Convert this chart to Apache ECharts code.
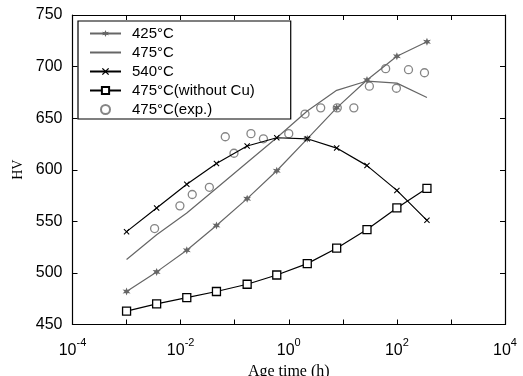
<!DOCTYPE html>
<html>
<head>
<meta charset="utf-8">
<script src="https://cdn.jsdelivr.net/npm/echarts@6/dist/echarts.min.js"></script>
<style>
  html, body { margin: 0; padding: 0; background: #fff; }
  #chart { width: 523px; height: 376px; }
</style>
</head>
<body>
<div id="chart"></div>
<script>
// Ageing time (h) of the modelled curves
const ageTime = [0.001, 0.0036, 0.013, 0.046, 0.17, 0.6, 2.2, 7.7, 28, 100, 360];
// Hardness (HV) for each ageing temperature
const hv425 = [482, 501, 522, 546, 572, 599, 630, 660, 687, 710, 724];
const hv475 = [513, 537, 558, 582, 607, 631, 657, 677, 686, 684, 670];
const hv540 = [540, 563, 586, 606, 623, 631, 630, 621, 604, 580, 551];
const hv475NoCu = [463, 470, 476, 482, 489, 498, 509, 524, 542, 563, 582];
// Measured hardness at 475°C
const expTime = [0.0033, 0.0097, 0.0164, 0.034, 0.067, 0.097, 0.2, 0.34, 1.0, 2.0, 3.9, 7.9, 16, 31, 62, 98, 164, 324];
const expHv = [543, 565, 576, 583, 632, 616, 635, 630, 635, 654, 660, 660, 660, 681, 698, 679, 697, 694];

const seriesNames = ['425°C', '475°C', '540°C', '475°C(without Cu)', '475°C(exp.)'];

const pair = (xs, ys) => xs.map((x, i) => [x, ys[i]]);

const gray = '#666666';
const starPath = 'path://M0,-5L1.1,-1.9L4.3,-2.5L2.2,0L4.3,2.5L1.1,1.9L0,5L-1.1,1.9L-4.3,2.5L-2.2,0L-4.3,-2.5L-1.1,-1.9Z';
const crossPath = 'path://M-4,-3L-3,-4L0,-1L3,-4L4,-3L1,0L4,3L3,4L0,1L-3,4L-4,3L-1,0Z';

const chart = echarts.init(document.getElementById('chart'), null, { renderer: 'canvas' });

const tickStyle = { show: true, inside: true, length: 5, lineStyle: { color: '#000', width: 1 } };
const lineStyleAxis = { show: true, onZero: false, lineStyle: { color: '#000', width: 1.2 } };

chart.setOption({
  animation: false,
  backgroundColor: '#fff',
  grid: { left: 72.5, right: 18, top: 15, bottom: 51.5, containLabel: false, outerBoundsMode: 'none' },
  legend: {
    orient: 'vertical',
    left: 78,
    top: 21,
    padding: [5, 36, 2, 11],
    itemGap: 4,
    itemWidth: 31,
    itemHeight: 9,
    backgroundColor: '#fff',
    borderColor: '#000',
    borderWidth: 1.2,
    borderRadius: 0,
    data: [
      seriesNames[0],
      { name: seriesNames[1], itemStyle: { opacity: 0 } },
      seriesNames[2],
      seriesNames[3],
      seriesNames[4]
    ],
    textStyle: { fontFamily: 'Liberation Sans', fontSize: 15, lineHeight: 15, color: '#000', padding: [0, 0, 0, 6] }
  },
  xAxis: [{
    type: 'log',
    logBase: 10,
    min: 1e-4,
    max: 1e4,
    splitNumber: 8,
    name: 'Age time (h)',
    nameLocation: 'middle',
    nameGap: 39,
    nameTextStyle: { fontFamily: 'Liberation Serif', fontSize: 16, color: '#000' },
    axisLine: lineStyleAxis,
    axisTick: tickStyle,
    minorTick: { show: false },
    splitLine: { show: false },
    axisLabel: {
      margin: 13,
      formatter: function (v) {
        const e = Math.round(Math.log10(v));
        if (e % 2 !== 0) return '';
        return '{b|10}{s|' + e + '}';
      },
      rich: {
        b: { fontFamily: 'Liberation Sans', fontSize: 16, color: '#000', verticalAlign: 'bottom' },
        s: { fontFamily: 'Liberation Sans', fontSize: 11, color: '#000', verticalAlign: 'bottom', padding: [0, 0, 10, 0] }
      }
    }
  }, {
    type: 'log',
    logBase: 10,
    min: 1e-4,
    max: 1e4,
    splitNumber: 8,
    position: 'top',
    axisLine: lineStyleAxis,
    axisTick: tickStyle,
    axisLabel: { show: false },
    splitLine: { show: false }
  }],
  yAxis: [{
    type: 'value',
    min: 450,
    max: 750,
    interval: 50,
    name: 'HV',
    nameLocation: 'middle',
    nameGap: 45,
    nameTextStyle: { fontFamily: 'Liberation Serif', fontSize: 14, color: '#000' },
    axisLine: lineStyleAxis,
    axisTick: tickStyle,
    splitLine: { show: false },
    axisLabel: { margin: 10, fontFamily: 'Liberation Sans', fontSize: 16, color: '#000' }
  }, {
    type: 'value',
    min: 450,
    max: 750,
    interval: 50,
    position: 'right',
    axisLine: lineStyleAxis,
    axisTick: tickStyle,
    axisLabel: { show: false },
    splitLine: { show: false }
  }],
  series: [
    {
      name: seriesNames[0], type: 'line', data: pair(ageTime, hv425),
      symbol: starPath, symbolSize: 8, showAllSymbol: true,
      lineStyle: { color: gray, width: 1.2 },
      itemStyle: { color: gray, borderWidth: 0 }
    },
    {
      name: seriesNames[1], type: 'line', data: pair(ageTime, hv475),
      symbol: 'circle', showSymbol: false,
      lineStyle: { color: gray, width: 1.2 },
      itemStyle: { color: gray }
    },
    {
      name: seriesNames[2], type: 'line', data: pair(ageTime, hv540),
      symbol: crossPath, symbolSize: 6, showAllSymbol: true,
      lineStyle: { color: '#000', width: 1.2 },
      itemStyle: { color: '#000', borderWidth: 0 }
    },
    {
      name: seriesNames[3], type: 'line', data: pair(ageTime, hv475NoCu),
      symbol: 'rect', symbolSize: 8, showAllSymbol: true,
      lineStyle: { color: '#000', width: 1.2 },
      itemStyle: { color: '#fff', borderColor: '#000', borderWidth: 1.3 }
    },
    {
      name: seriesNames[4], type: 'scatter', data: pair(expTime, expHv),
      symbol: 'circle', symbolSize: 8,
      itemStyle: { color: 'rgba(255,255,255,0)', borderColor: gray, borderWidth: 1.3 }
    }
  ]
});
</script>
</body>
</html>
